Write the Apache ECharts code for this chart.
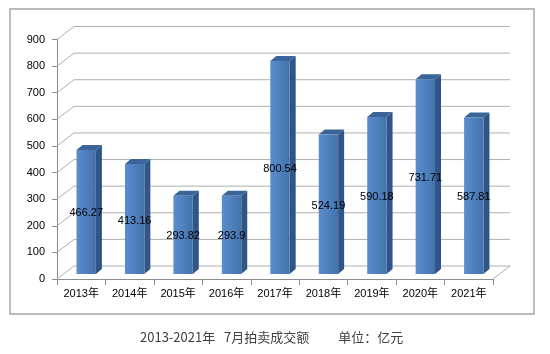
<!DOCTYPE html>
<html>
<head>
<meta charset="utf-8">
<script src="https://cdn.jsdelivr.net/npm/echarts@6/dist/echarts.min.js"></script>
<style>
  html, body { margin: 0; padding: 0; background: #fff; }
  #main { width: 550px; height: 354px; }
</style>
</head>
<body>
<div id="main"></div>
<script>
// 数据
const years = ['2013年', '2014年', '2015年', '2016年', '2017年', '2018年', '2019年', '2020年', '2021年'];
const amounts = [466.27, 413.16, 293.82, 293.9, 800.54, 524.19, 590.18, 731.71, 587.81];
const yTicks = [0, 100, 200, 300, 400, 500, 600, 700, 800, 900];
const caption = '2013-2021年   7月拍卖成交额          单位：亿元';

// 3D 效果参数
const DEPTH_X = 17, DEPTH_Y = -13;   // 背墙偏移
const SHIFT_X = 5, SHIFT_Y = -5;     // 柱子前面相对前平面
const BAR_DX = 6, BAR_DY = -5;       // 柱子厚度
const GRID_COLOR = '#b0b0b0';
const AXIS_COLOR = '#8c8c8c';
const FONT = 'Liberation Sans, Arial, Noto Sans CJK SC, sans-serif';

const chart = echarts.init(document.getElementById('main'));

// 背墙、左墙和地板
function renderWalls(params, api) {
    const cs = params.coordSys;
    const v = api.value(1);
    const y = api.coord([0, v])[1];
    const x0 = cs.x, x1 = cs.x + cs.width;
    const style = { stroke: GRID_COLOR, lineWidth: 1 };
    const children = [
        { type: 'line', shape: { x1: x0, y1: y, x2: x0 + DEPTH_X, y2: y + DEPTH_Y }, style: style },
        { type: 'line', shape: { x1: x0 + DEPTH_X, y1: y + DEPTH_Y, x2: x1 + DEPTH_X, y2: y + DEPTH_Y }, style: style }
    ];
    if (v === 0) {
        children.push({ type: 'line', shape: { x1: x1, y1: y, x2: x1 + DEPTH_X, y2: y + DEPTH_Y }, style: style });
    }
    return { type: 'group', children: children };
}

// 立体柱子
function renderBar(params, api) {
    const i = api.value(0);
    const v = api.value(1);
    const base = api.coord([i, 0]);
    const top = api.coord([i, v]);
    const bw = api.size([1, 0])[0];
    const w = bw * 0.4;
    const cx = base[0] + SHIFT_X;
    const left = cx - w / 2;
    const right = cx + w / 2;
    const yTop = top[1] + SHIFT_Y;
    const yBot = base[1] + SHIFT_Y;
    return {
        type: 'group',
        children: [
            {
                type: 'polygon',
                shape: { points: [[right, yTop], [right + BAR_DX, yTop + BAR_DY], [right + BAR_DX, yBot + BAR_DY], [right, yBot]] },
                style: { fill: '#2f5687' }
            },
            {
                type: 'polygon',
                shape: { points: [[left, yTop], [left + BAR_DX, yTop + BAR_DY], [right + BAR_DX, yTop + BAR_DY], [right, yTop]] },
                style: { fill: '#3b6499' }
            },
            {
                type: 'rect',
                shape: { x: left, y: yTop, width: w, height: yBot - yTop },
                style: {
                    fill: new echarts.graphic.LinearGradient(0, 0, 1, 0, [
                        { offset: 0, color: '#5a8dcd' },
                        { offset: 0.5, color: '#4f80be' },
                        { offset: 1, color: '#4572aa' }
                    ])
                }
            },
            {
                type: 'text',
                style: {
                    x: cx, y: (yTop + yBot) / 2 + 1.5,
                    text: String(amounts[i]),
                    fill: '#000', font: '11px ' + FONT,
                    align: 'center', verticalAlign: 'middle'
                },
                z2: 10
            }
        ]
    };
}

const option = {
    backgroundColor: '#fff',
    animation: false,
    title: {
        text: caption,
        left: 135,
        top: 326,
        textStyle: { fontSize: 13, fontWeight: 'normal', color: '#404040', fontFamily: 'Noto Sans CJK SC' }
    },
    graphic: [{
        type: 'rect',
        shape: { x: 10, y: 9, width: 524, height: 305 },
        style: { fill: 'none', stroke: '#a6a6a6', lineWidth: 1.5 },
        silent: true
    }],
    grid: { left: 57, right: 57, top: 39.5, bottom: 75 },
    xAxis: {
        type: 'category',
        data: years,
        axisLine: { lineStyle: { color: AXIS_COLOR } },
        axisTick: { show: true, length: 6, lineStyle: { color: AXIS_COLOR } },
        axisLabel: { color: '#000', fontSize: 11, margin: 9, fontFamily: FONT }
    },
    yAxis: {
        type: 'value',
        min: 0,
        max: 900,
        interval: 100,
        axisLine: { show: true, lineStyle: { color: AXIS_COLOR } },
        axisTick: { show: true, length: 5, lineStyle: { color: AXIS_COLOR } },
        axisLabel: { color: '#000', fontSize: 11, margin: 12, fontFamily: FONT },
        splitLine: { show: false }
    },
    series: [
        {
            type: 'custom',
            renderItem: renderWalls,
            data: yTicks.map(v => [0, v]),
            silent: true,
            z: 1
        },
        {
            type: 'custom',
            renderItem: renderBar,
            data: amounts.map((v, i) => [i, v]),
            silent: true,
            z: 2
        }
    ]
};

chart.setOption(option);
</script>
</body>
</html>
